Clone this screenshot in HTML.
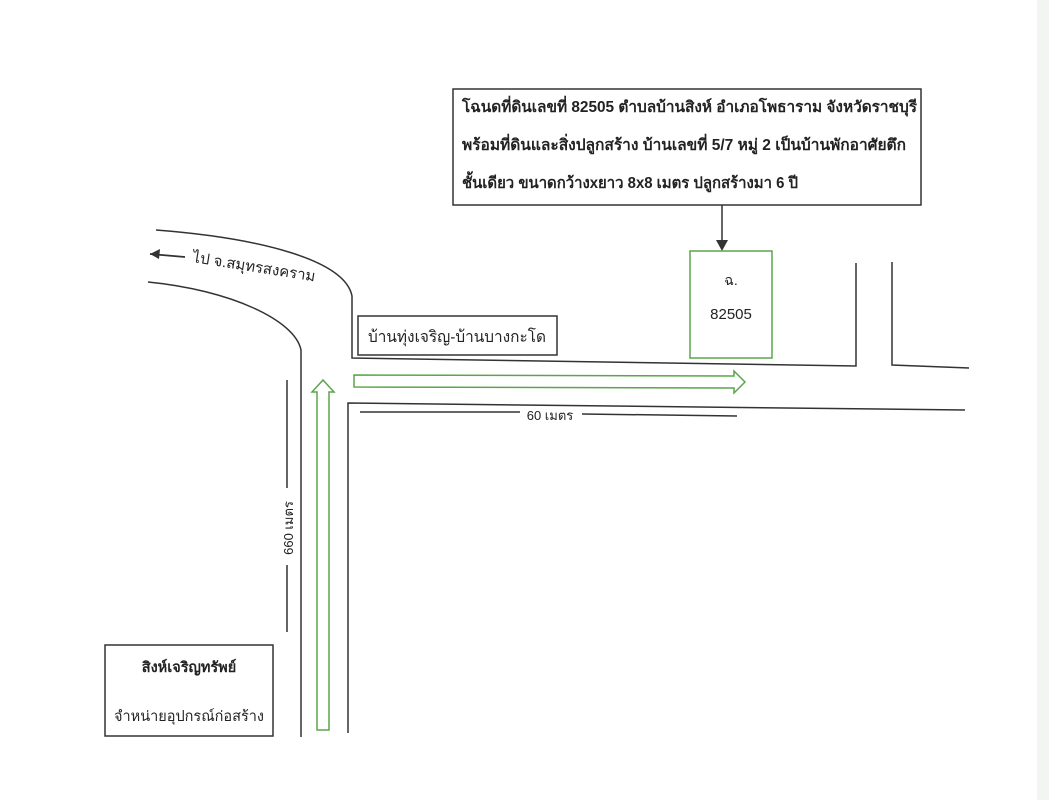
<!DOCTYPE html>
<html><head><meta charset="utf-8"><style>
html,body{margin:0;padding:0;background:#fff;}
svg{display:block;}
text{font-family:"Liberation Sans","Noto Sans CJK SC",sans-serif;fill:#222;}
</style></head><body>
<svg width="1049" height="800" viewBox="0 0 1049 800">
<rect x="0" y="0" width="1049" height="800" fill="#fff"/>
<rect x="1037" y="0" width="12" height="800" fill="#f3f5f2"/>
<g fill="none" stroke="#333" stroke-width="1.5">
<rect x="453" y="89" width="468" height="116"/>
<line x1="722" y1="205" x2="722" y2="242"/>
<path d="M156 230 C260 238 345 260 352 296 L352 358 L856 366 L856 263"/>
<path d="M892 262 L892 365 L969 368"/>
<path d="M348 733 L348 403 L965 410"/>
<path d="M148 282 C230 290 295 320 301 350 L301 737"/>
<rect x="358" y="316" width="199" height="39"/>
<rect x="105" y="645" width="168" height="91"/>
<line x1="360" y1="412" x2="520" y2="412"/>
<line x1="582" y1="414" x2="737" y2="416"/>
<line x1="287" y1="380" x2="287" y2="488"/>
<line x1="287" y1="565" x2="287" y2="632"/>
<line x1="150" y1="254" x2="185" y2="257" stroke-width="1.8"/>
</g>
<polygon points="716,240 728,240 722,251" fill="#333"/>
<polygon points="150,254 160,249 159,259" fill="#333"/>
<g fill="none" stroke="#5aa64a" stroke-width="1.5">
<rect x="690" y="251" width="82" height="107"/>
<path d="M354 375 L734 376 L734 371 L745 382 L734 393 L734 388 L354 387 Z"/>
<path d="M317 730 L317 392 L312 392 L323 380 L334 392 L329 392 L329 730 Z"/>
</g>
<g font-size="15.4" font-weight="bold">
<text x="462" y="112" textLength="455" lengthAdjust="spacingAndGlyphs">โฉนดที่ดินเลขที่ 82505 ตำบลบ้านสิงห์ อำเภอโพธาราม จังหวัดราชบุรี</text>
<text x="462" y="150" textLength="444" lengthAdjust="spacingAndGlyphs">พร้อมที่ดินและสิ่งปลูกสร้าง บ้านเลขที่ 5/7 หมู่ 2 เป็นบ้านพักอาศัยตึก</text>
<text x="462" y="188" textLength="336" lengthAdjust="spacingAndGlyphs">ชั้นเดียว ขนาดกว้างxยาว 8x8 เมตร ปลูกสร้างมา 6 ปี</text>
</g>
<text x="731" y="285" font-size="14" text-anchor="middle">ฉ.</text>
<text x="731" y="319" font-size="15" text-anchor="middle">82505</text>
<text x="457" y="342" font-size="16" text-anchor="middle" textLength="178" lengthAdjust="spacingAndGlyphs">บ้านทุ่งเจริญ-บ้านบางกะโด</text>
<text x="550" y="420" font-size="13" text-anchor="middle">60 เมตร</text>
<text transform="translate(293,528) rotate(-90)" font-size="13" text-anchor="middle">660 เมตร</text>
<text transform="translate(192,262) rotate(9)" font-size="15">ไป จ.สมุทรสงคราม</text>
<text x="189" y="672" font-size="14.5" font-weight="bold" text-anchor="middle">สิงห์เจริญทรัพย์</text>
<text x="189" y="721" font-size="14.5" text-anchor="middle" textLength="150" lengthAdjust="spacingAndGlyphs">จำหน่ายอุปกรณ์ก่อสร้าง</text>
</svg>
</body></html>
